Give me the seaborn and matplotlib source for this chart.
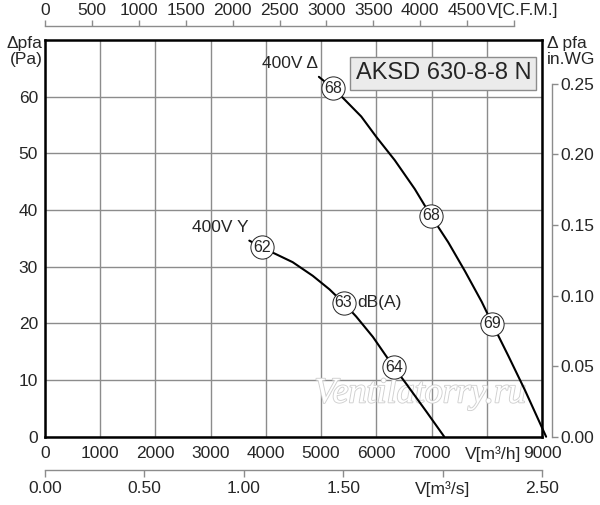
import matplotlib
matplotlib.use('Agg')
import matplotlib.pyplot as plt
import matplotlib.patheffects as pe
from matplotlib.transforms import ScaledTranslation
import numpy as np
import pandas as pd
import seaborn as sns

# curve 400V delta (m3/h, Pa)
flow_delta = [4960, 5212, 5394, 5727, 6000, 6333, 6697, 6988, 7303, 7606, 7909, 8103, 8394, 8697, 9075]
pa_delta = [63.5, 61.5, 59.8, 56.5, 52.9, 48.8, 43.7, 39.0, 34.3, 29.2, 23.8, 19.9, 14.2, 8.1, 0.0]

# curve 400V Y
flow_star = [3700, 3927, 4121, 4485, 4848, 5152, 5406, 5636, 5939, 6315, 6545, 6909, 7230]
pa_star = [34.6, 33.4, 32.5, 30.8, 28.4, 26.0, 23.6, 21.2, 17.6, 12.3, 9.3, 4.4, 0.0]

# noise markers dB(A)
mark_flow = [5212, 6988, 8103, 3927, 5406, 6315]
mark_pa = [61.5, 39.0, 19.9, 33.4, 23.6, 12.3]
mark_db = ['68', '68', '69', '62', '63', '64']

x_ticks = [0, 1000, 2000, 3000, 4000, 5000, 6000, 7000, 8000, 9000]
x_labels = ['0', '1000', '2000', '3000', '4000', '5000', '6000', '7000', 'V[m³/h]', '9000']
y_ticks = [0, 10, 20, 30, 40, 50, 60]
cfm_ticks = [0, 500, 1000, 1500, 2000, 2500, 3000, 3500, 4000, 4500, 5000]
cfm_labels = ['0', '500', '1000', '1500', '2000', '2500', '3000', '3500', '4000', '4500', 'V[C.F.M.]']
m3s_ticks = [0, 0.5, 1.0, 1.5, 2.0, 2.5]
m3s_labels = ['0.00', '0.50', '1.00', '1.50', 'V[m³/s]', '2.50']
wg_ticks = [0, 0.05, 0.10, 0.15, 0.20, 0.25]

sns.set_theme(style='white')
plt.rcParams['font.family'] = ['Liberation Sans', 'DejaVu Sans']

GRAY = '#8c8c8c'
FS = 12.5

fig = plt.figure(figsize=(6, 5.05), dpi=100)
ax = fig.add_axes([0.075, 0.1352, 0.8283, 0.7856])

df_d = pd.DataFrame({'flow': flow_delta, 'pa': pa_delta})
df_s = pd.DataFrame({'flow': flow_star, 'pa': pa_star})
sns.lineplot(data=df_d, x='flow', y='pa', sort=False, color='black', lw=1.5, ax=ax, clip_on=False, zorder=3)
sns.lineplot(data=df_s, x='flow', y='pa', sort=False, color='black', lw=1.5, ax=ax, zorder=3)
sns.scatterplot(x=mark_flow, y=mark_pa, s=280, color='white', edgecolor='#222222', linewidth=0.7, ax=ax, zorder=4, clip_on=False)
for fx, py, t in zip(mark_flow, mark_pa, mark_db):
    ax.text(fx, py, t, ha='center', va='center', fontsize=11.5, zorder=5)

ax.text(5406 + 250, 23.6, 'dB(A)', ha='left', va='center', fontsize=FS)
ax.text(4950, 65.8, '400V Δ', ha='right', va='center', fontsize=FS)
ax.text(3690, 36.9, '400V Y', ha='right', va='center', fontsize=FS)

ax.set_xlim(0, 9000)
ax.set_ylim(0, 70)
ax.set_xticks(x_ticks)
ax.set_xticklabels(x_labels)
ax.set_yticks(y_ticks)
ax.set_xlabel('')
ax.set_ylabel('')
ax.tick_params(length=0, labelsize=FS)
ax.tick_params(axis='x', pad=7)
ax.tick_params(axis='y', pad=5)
ax.grid(True, color=GRAY, lw=1)
ax.set_axisbelow(True)
for s in ax.spines.values():
    s.set_color('black')
    s.set_linewidth(1.8)
    s.set_zorder(6)

shift = ScaledTranslation(6 / 100, 0, fig.dpi_scale_trans)
lab = ax.xaxis.get_major_ticks()[8].label1
lab.set_transform(lab.get_transform() + shift)

ax.text(-0.005, 1.01, 'Δpfa\n(Pa)', transform=ax.transAxes, ha='right', va='top',
        fontsize=FS, linespacing=1.1)

# title box
ax.text(0.8016, 0.916, 'AKSD 630-8-8 N', transform=ax.transAxes, ha='center', va='center',
        fontsize=17, zorder=7,
        bbox=dict(boxstyle='square,pad=0.22', fc='#ebebeb', ec=GRAY, lw=1))

# watermark
ax.text(0.755, 0.108, 'Ventilatorry.ru', transform=ax.transAxes, ha='center', va='center',
        fontsize=26, family='Liberation Serif', style='italic', color='white', zorder=2,
        path_effects=[pe.withStroke(linewidth=1.3, foreground='#d0d0d0')])

# top axis C.F.M.
top = ax.twiny()
top.set_xlim(0, 9000 / 1.699)
top.set_xticks(cfm_ticks)
top.set_xticklabels(cfm_labels)
for k in ['left', 'right', 'bottom']:
    top.spines[k].set_visible(False)
top.spines['top'].set_position(('axes', 1.035))
top.spines['top'].set_bounds(0, 5000)
top.spines['top'].set_color(GRAY)
top.spines['top'].set_linewidth(1)
top.tick_params(axis='x', direction='out', length=4, width=1, color=GRAY, labelsize=FS, pad=2)
tk = top.xaxis.get_major_ticks()[-1]
for lab in (tk.label1, tk.label2):
    lab.set_transform(lab.get_transform() + ScaledTranslation(9 / 100, 0, fig.dpi_scale_trans))

# bottom axis m3/s
bot = ax.twiny()
bot.set_xlim(0, 2.5)
bot.xaxis.set_ticks_position('bottom')
bot.xaxis.set_label_position('bottom')
bot.set_xticks(m3s_ticks)
bot.set_xticklabels(m3s_labels)
for k in ['left', 'right', 'top']:
    bot.spines[k].set_visible(False)
bot.spines['bottom'].set_visible(True)
bot.spines['bottom'].set_position(('axes', -0.084))
bot.spines['bottom'].set_bounds(0, 2.5)
bot.spines['bottom'].set_color(GRAY)
bot.spines['bottom'].set_linewidth(1)
bot.tick_params(axis='x', direction='out', length=5, width=1, color=GRAY, labelsize=FS, pad=3)

# right axis in.WG
rax = ax.twinx()
rax.set_ylim(0, 70 / 249.089)
rax.set_yticks(wg_ticks)
rax.set_yticklabels(['%.2f' % v for v in wg_ticks])
for k in ['left', 'top', 'bottom']:
    rax.spines[k].set_visible(False)
rax.spines['right'].set_position(('axes', 1.02))
rax.spines['right'].set_bounds(0, 0.25)
rax.spines['right'].set_color(GRAY)
rax.spines['right'].set_linewidth(1)
rax.tick_params(axis='y', direction='out', length=4, width=1, color=GRAY, labelsize=FS, pad=2)
rax.text(1.01, 1.01, 'Δ pfa\nin.WG', transform=ax.transAxes, ha='left', va='top',
         fontsize=FS, linespacing=1.1)

fig.savefig('out.png', dpi=100)
